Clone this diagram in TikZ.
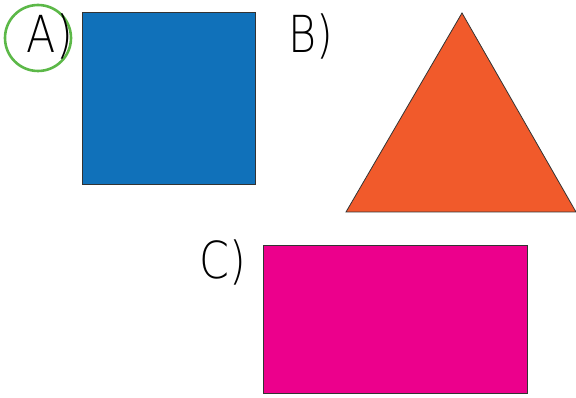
\documentclass[tikz,border=0pt]{standalone}
\usepackage{fontspec}
\newfontfamily\thinfont{DejaVu Sans}[UprightFont={* ExtraLight}, FakeStretch=0.84]
\definecolor{sqblue}{RGB}{16,113,186}
\definecolor{triorange}{RGB}{241,90,43}
\definecolor{recmagenta}{RGB}{236,0,140}
\definecolor{ringgreen}{RGB}{92,184,72}
\begin{document}
\begin{tikzpicture}[x=1pt, y=-1pt,
    figure/.style={draw=black!80, line width=0.8pt},
    letter/.style={inner sep=0pt, font=\thinfont\fontsize{51}{51}\selectfont}]
                  \useasboundingbox (0, 0) rectangle (576, 398);
                  \draw[figure, fill=sqblue] (82, 12) -- (255, 12) -- (255, 184) -- (82, 184) -- cycle;
                  \draw[figure, fill=triorange] (346, 212) -- (462, 13) -- (576, 212) -- cycle;
                  \draw[figure, fill=recmagenta] (263, 245) -- (527, 245) -- (527, 393) -- (263, 393) -- cycle;
                  \draw[ringgreen, line width=2.6pt] (38, 38) circle (33);
                  \node[letter] (labelA) at (50, 36) {A)};
                  \node[letter] (labelB) at (311, 36) {B)};
                  \node[letter] (labelC) at (223, 262) {C)};
              \end{tikzpicture}
\end{document}
